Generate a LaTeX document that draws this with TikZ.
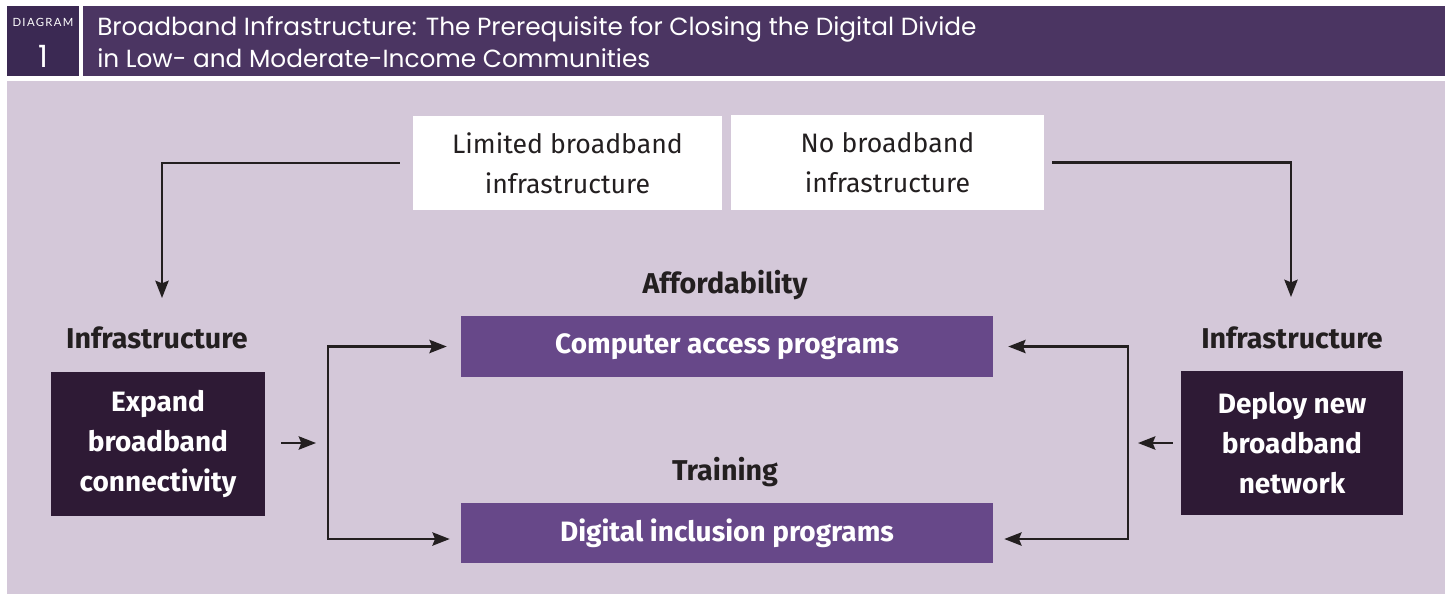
\documentclass[tikz,border=0pt]{standalone}
\usepackage{fontspec}
\setmainfont{Fira Sans}
\newfontfamily\headfont{Poppins}
\newfontfamily\tagfont[LetterSpace=12]{Lato}
\usetikzlibrary{arrows.meta}

\definecolor{hdrdark}{HTML}{3B2953}
\definecolor{hdrbar}{HTML}{4B3562}
\definecolor{panelc}{HTML}{D4C8D9}
\definecolor{darkbox}{HTML}{2E1A35}
\definecolor{progbox}{HTML}{674889}
\definecolor{inkc}{HTML}{231F20}

\tikzset{
  hdrnum/.style={fill=hdrdark, inner sep=0pt, minimum width=54pt, minimum height=52.5pt},
  hdrbarbox/.style={fill=hdrbar, inner sep=0pt, minimum width=1021.5pt, minimum height=52.5pt},
  whitebox/.style={fill=white, inner sep=0pt, align=center, text=inkc,
    font=\fontsize{20}{30}\selectfont},
  progbox/.style={fill=progbox, inner sep=0pt, minimum width=399pt, text=white,
    font=\bfseries\fontsize{21}{24}\selectfont},
  actionbox/.style={fill=darkbox, inner sep=0pt, minimum height=108pt, align=center, text=white,
    font=\bfseries\fontsize{21}{30}\selectfont},
  catlabel/.style={inner sep=0pt, text=inkc, font=\bfseries\fontsize{21.5}{24}\selectfont},
  arr/.style={draw=inkc, line width=1.6pt, -{Stealth[length=13pt,width=10pt,inset=2pt]}}
}

\begin{document}
\begin{tikzpicture}[x=0.75pt, y=-0.75pt]
  \useasboundingbox (0,0) rectangle (1445,594);

  % header strip
  \node[hdrnum] (num) at (43,41) {};
  \node[text=white, inner sep=0pt, font=\tagfont\fontsize{8.5}{9}\selectfont] (numlbl) at (43,22) {DIAGRAM};
  \node[text=white, inner sep=0pt, font=\headfont\fontsize{23}{24}\selectfont] (numval) at (43,56) {1};
  \node[hdrbarbox] (bar) at (764,41) {};
  \node[anchor=west, align=left, text=white, inner sep=0pt,
        font=\headfont\fontsize{18.6}{24}\selectfont] (title) at (97,42)
    {Broadband Infrastructure: The Prerequisite for Closing the Digital Divide\\
     in Low- and Moderate-Income Communities};

  % panel
  \fill[panelc] (7,81) rectangle (1445,594);

  % conditions
  \node[whitebox, minimum width=231.75pt, minimum height=70.5pt] (lim) at (567.5,163)
    {Limited broadband\\infrastructure};
  \node[whitebox, minimum width=234.75pt, minimum height=71.25pt] (nob) at (887.5,162.5)
    {No broadband\\infrastructure};

  % infrastructure actions
  \node[catlabel] (infL) at (157,338) {Infrastructure};
  \node[catlabel] (infR) at (1292,338) {Infrastructure};
  \node[actionbox, minimum width=160.5pt] (exp) at (158,444)
    {Expand\\broadband\\connectivity};
  \node[actionbox, minimum width=166.5pt] (dep) at (1292,443)
    {Deploy new\\broadband\\network};

  % programs
  \node[catlabel] (aff) at (725,285) {Affordability};
  \node[catlabel] (trn) at (725,472) {Training};
  \node[progbox, minimum height=45.75pt] (cap) at (727,346.5) {Computer access programs};
  \node[progbox, minimum height=45pt] (dig) at (727,533) {Digital inclusion programs};

  % junction points and arrow ends
  \coordinate (tL) at (162,298);
  \coordinate (tR) at (1291,297);
  \coordinate (jL) at (328,443);
  \coordinate (jR) at (1128,443);

  % connectors
  \draw[arr] ([xshift=-9.75pt]lim.west) -| (tL);
  \draw[arr] ([xshift=6pt]nob.east) -| (tR);

  \draw[arr] ([xshift=12pt]exp.east |- jL) -- ([xshift=-9pt]jL);
  \draw[arr, shorten >=10.5pt] (jL) |- (cap.west);
  \draw[arr, shorten >=8.25pt] (jL) |- ([yshift=-4.5pt]dig.west);

  \draw[arr] ([xshift=-6pt]dep.west |- jR) -- ([xshift=7.5pt]jR);
  \draw[arr, shorten >=11.25pt] (jR) |- (cap.east);
  \draw[arr, shorten >=8.25pt] (jR) |- ([yshift=-4.5pt]dig.east);
\end{tikzpicture}
\end{document}
